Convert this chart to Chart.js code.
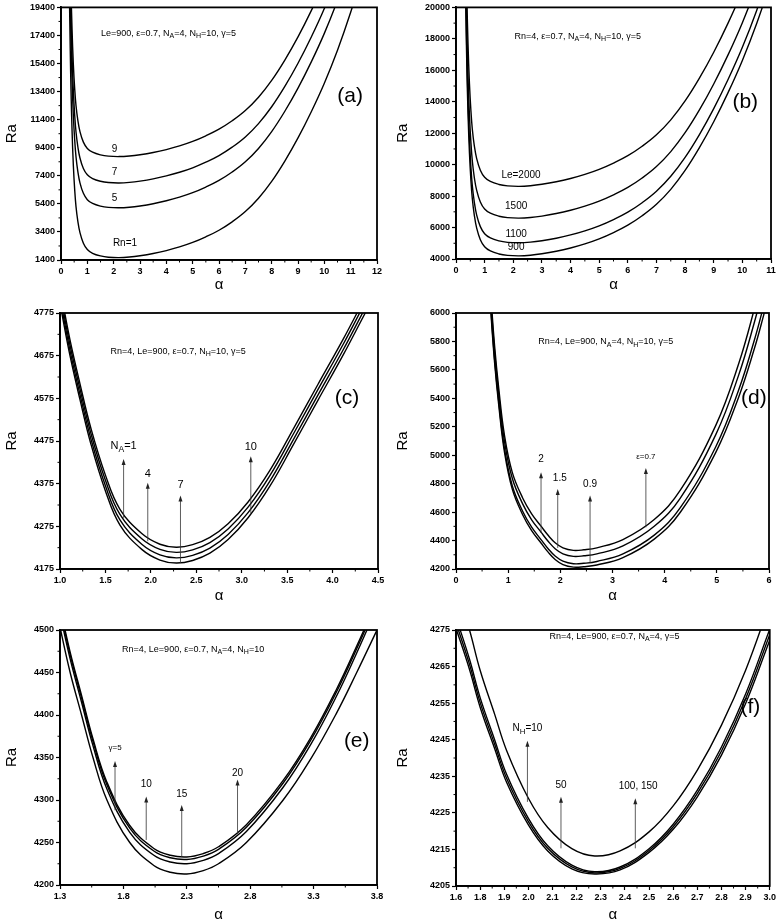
<!DOCTYPE html>
<html>
<head>
<meta charset="utf-8">
<script src="https://cdn.jsdelivr.net/npm/chart.js@4.4.1/dist/chart.umd.min.js"></script>
<style>
    html, body { margin: 0; padding: 0; background: #fff; }
    #fig { position: relative; width: 778px; height: 924px; }
    #fig canvas { position: absolute; }
</style>
</head>
<body>
<div id="fig">
    <canvas id="chA" width="389" height="300" style="left:0;top:0"></canvas>
    <canvas id="chB" width="389" height="300" style="left:389px;top:0"></canvas>
    <canvas id="chC" width="389" height="310" style="left:0;top:300px"></canvas>
    <canvas id="chD" width="389" height="310" style="left:389px;top:300px"></canvas>
    <canvas id="chE" width="389" height="314" style="left:0;top:610px"></canvas>
    <canvas id="chF" width="389" height="314" style="left:389px;top:610px"></canvas>
</div>
<script>
// ========== DATA ==========

// (a) Rn = 1, 5, 7, 9
const alphaA = [0.32, 0.35, 0.38, 0.42, 0.47, 0.52, 0.57, 0.64, 0.72, 0.85, 1.0, 1.2, 1.5, 1.8, 2.2, 2.6, 3.0, 3.5, 4.0, 4.5,
    5.0, 5.5, 6.0, 6.5, 7.0, 7.5, 8.0, 8.5, 9.0, 9.5, 10.0, 10.5, 11.0, 11.5];
const raRn1 = [20200, 16500, 13500, 10600, 8100, 6400, 5200, 4150, 3350, 2600, 2150, 1880, 1690, 1600, 1570, 1610, 1700, 1860, 2070, 2330,
    2650, 3050, 3520, 4120, 4850, 5800, 7000, 8450, 10100, 11950, 14000, 16350, 19050, 22100];
const raRn5 = [23750, 20050, 17050, 14150, 11650, 9950, 8750, 7700, 6900, 6150, 5700, 5430, 5240, 5150, 5120, 5160, 5250, 5410, 5620, 5880,
    6200, 6600, 7070, 7670, 8400, 9350, 10550, 12000, 13650, 15500, 17550, 19900, 22600, 25650];
const raRn7 = [25520, 21820, 18820, 15920, 13420, 11720, 10520, 9470, 8670, 7920, 7470, 7200, 7010, 6920, 6890, 6930, 7020, 7180, 7390, 7650,
    7970, 8370, 8840, 9440, 10170, 11120, 12320, 13770, 15420, 17270, 19320, 21670, 24370, 27420];
const raRn9 = [27400, 23700, 20700, 17800, 15300, 13600, 12400, 11350, 10550, 9800, 9350, 9080, 8890, 8800, 8770, 8810, 8900, 9060, 9270, 9530,
    9850, 10250, 10720, 11320, 12050, 13000, 14200, 15650, 17300, 19150, 21200, 23550, 26250, 29300];
const xTicksA = [0, 1, 2, 3, 4, 5, 6, 7, 8, 9, 10, 11, 12];
const yTicksA = [1400, 3400, 5400, 7400, 9400, 11400, 13400, 15400, 17400, 19400];

// (b) Le = 900, 1100, 1500, 2000
const alphaB = [0.32, 0.35, 0.38, 0.42, 0.47, 0.52, 0.57, 0.64, 0.72, 0.85, 1.0, 1.2, 1.5, 1.8, 2.2, 2.6, 3.0, 3.5, 4.0, 4.5,
    5.0, 5.5, 6.0, 6.5, 7.0, 7.5, 8.0, 8.5, 9.0, 9.5, 10.0, 10.5, 11.0, 11.5];
const raLe900 = [22830, 19130, 16130, 13230, 10730, 9030, 7830, 6780, 5980, 5230, 4780, 4510, 4320, 4230, 4200, 4240, 4330, 4490, 4700, 4960,
    5280, 5680, 6150, 6750, 7480, 8430, 9630, 11080, 12730, 14580, 16630, 18980, 21680, 24730];
const raLe1100 = [23660, 19960, 16960, 14060, 11560, 9860, 8660, 7610, 6810, 6060, 5610, 5340, 5150, 5060, 5030, 5070, 5160, 5320, 5530, 5790,
    6110, 6510, 6980, 7580, 8310, 9260, 10460, 11910, 13560, 15410, 17460, 19810, 22510, 25560];
const raLe1500 = [25230, 21530, 18530, 15630, 13130, 11430, 10230, 9180, 8380, 7630, 7180, 6910, 6720, 6630, 6600, 6640, 6730, 6890, 7100, 7360,
    7680, 8080, 8550, 9150, 9880, 10830, 12030, 13480, 15130, 16980, 19030, 21380, 24080, 27130];
const raLe2000 = [27250, 23550, 20550, 17650, 15150, 13450, 12250, 11200, 10400, 9650, 9200, 8930, 8740, 8650, 8620, 8660, 8750, 8910, 9120, 9380,
    9700, 10100, 10570, 11170, 11900, 12850, 14050, 15500, 17150, 19000, 21050, 23400, 26100, 29150];
const xTicksB = [0, 1, 2, 3, 4, 5, 6, 7, 8, 9, 10, 11];
const yTicksB = [4000, 6000, 8000, 10000, 12000, 14000, 16000, 18000, 20000];

// (c) N_A = 1, 4, 7, 10
const alphaC = [0.95, 1.02, 1.11, 1.22, 1.34, 1.50, 1.66, 1.9, 2.1, 2.28, 2.46, 2.65, 2.85, 3.07, 3.31, 3.57, 3.84, 4.12, 4.36, 4.5];
const raNA1 = [4855, 4775, 4675, 4572, 4468, 4358, 4278, 4221, 4196, 4189, 4195, 4212, 4244, 4295, 4369, 4467, 4571, 4678, 4775, 4830];
const raNA4 = [4867, 4787, 4687, 4584, 4480, 4370, 4290, 4233, 4208, 4201, 4207, 4224, 4256, 4307, 4381, 4479, 4583, 4690, 4787, 4842];
const raNA7 = [4880, 4800, 4700, 4597, 4493, 4383, 4303, 4246, 4221, 4214, 4220, 4237, 4269, 4320, 4394, 4492, 4596, 4703, 4800, 4855];
const raNA10 = [4892, 4812, 4712, 4609, 4505, 4395, 4315, 4258, 4233, 4226, 4232, 4249, 4281, 4332, 4406, 4504, 4608, 4715, 4812, 4867];
const xTicksC = [1.0, 1.5, 2.0, 2.5, 3.0, 3.5, 4.0, 4.5];
const xLabelsC = ['1.0', '1.5', '2.0', '2.5', '3.0', '3.5', '4.0', '4.5'];
const yTicksC = [4175, 4275, 4375, 4475, 4575, 4675, 4775];

// (d) epsilon = 0.7, 0.9, 1.5, 2
const alphaD = [0.6, 0.67, 0.74, 0.82, 0.93, 1.08, 1.28, 1.45, 1.63, 1.77, 1.9, 2.05, 2.25, 2.45, 2.7, 3.2, 3.8, 4.3, 4.98, 5.42, 5.72, 5.88, 6.05];
const raEps07 = [6450, 6000, 5650, 5350, 5020, 4760, 4580, 4470, 4383, 4317, 4267, 4231, 4213, 4216, 4228, 4280, 4410, 4599, 5020, 5410, 5750, 5960, 6200];
const raEps09 = [6474, 6024, 5674, 5374, 5044, 4784, 4604, 4494, 4407, 4341, 4291, 4255, 4237, 4240, 4253, 4306, 4438, 4631, 5060, 5460, 5810, 6026, 6275];
const raEps15 = [6526, 6076, 5726, 5426, 5096, 4836, 4656, 4546, 4459, 4393, 4343, 4307, 4289, 4293, 4306, 4362, 4500, 4699, 5145, 5565, 5935, 6165, 6430];
const raEps2 = [6568, 6118, 5768, 5468, 5138, 4878, 4698, 4588, 4501, 4435, 4385, 4349, 4331, 4335, 4349, 4407, 4548, 4754, 5210, 5645, 6030, 6270, 6550];
const xTicksD = [0, 1, 2, 3, 4, 5, 6];
const yTicksD = [4200, 4400, 4600, 4800, 5000, 5200, 5400, 5600, 5800, 6000];

// (e) gamma = 5, 10, 15, 20
const alphaE = [1.27, 1.305, 1.38, 1.47, 1.56, 1.67, 1.85, 2.04, 2.17, 2.3, 2.43, 2.55, 2.77, 3.06, 3.28, 3.48, 3.64, 3.80, 3.85];
const raGam5 = [4526, 4500, 4450, 4400, 4350, 4300, 4250, 4223, 4215, 4213, 4217, 4225, 4250, 4300, 4349, 4402, 4450, 4500, 4516];
const raGam10 = [4542, 4516, 4466, 4415, 4364, 4313, 4262, 4235, 4227, 4225, 4229, 4237, 4263, 4315, 4366, 4422, 4473, 4527, 4545];
const raGam15 = [4547, 4521, 4471, 4420, 4369, 4318, 4267, 4240, 4232, 4230, 4234, 4242, 4268, 4320, 4371, 4427, 4478, 4532, 4550];
const raGam20 = [4550, 4524, 4474, 4423, 4372, 4321, 4270, 4243, 4235, 4233, 4237, 4245, 4271, 4323, 4374, 4430, 4481, 4535, 4553];
const xTicksE = [1.3, 1.8, 2.3, 2.8, 3.3, 3.8];
const xLabelsE = ['1.3', '1.8', '2.3', '2.8', '3.3', '3.8'];
const yTicksE = [4200, 4250, 4300, 4350, 4400, 4450, 4500];

// (f) N_H = 10, 50, 100, 150
const alphaF = [1.70, 1.756, 1.80, 1.86, 1.91, 2.0, 2.08, 2.18, 2.275, 2.38, 2.5, 2.6, 2.7, 2.8, 2.9, 3.0, 3.05];
const raNH10 = [4287, 4275, 4264, 4252, 4242, 4229, 4221, 4215.2, 4213.2, 4214.6, 4219.8, 4226.9, 4236.7, 4249.0, 4264.0, 4282.2, 4291.3];
const raNH50 = [4278.5, 4267, 4256.5, 4245, 4235.5, 4223.5, 4216, 4210.7, 4208.9, 4210.2, 4215.2, 4221.9, 4231.2, 4243, 4257.5, 4275.2, 4283.8];
const raNH100 = [4277.0, 4265.6, 4255.2, 4243.8, 4234.4, 4222.6, 4215.3, 4210.2, 4208.6, 4209.8, 4214.7, 4221.2, 4230.3, 4241.9, 4256.2, 4273.7, 4282.2];
const raNH150 = [4275.5, 4264.2, 4253.9, 4242.6, 4233.3, 4221.7, 4214.6, 4209.7, 4208.3, 4209.4, 4214.2, 4220.5, 4229.4, 4240.8, 4254.9, 4272.2, 4280.6];
const xTicksF = [1.7, 1.8, 1.9, 2.0, 2.1, 2.2, 2.3, 2.4, 2.5, 2.6, 2.7, 2.8, 2.9, 3.0];
const xLabelsF = ['1.6', '1.8', '1.9', '2.0', '2.1', '2.2', '2.3', '2.4', '2.5', '2.6', '2.7', '2.8', '2.9', '3.0'];
const yTicksF = [4205, 4215, 4225, 4235, 4245, 4255, 4265, 4275];

// ========== VẼ ==========

const FONT = "'Liberation Sans', Arial, sans-serif";

function pts(xs, ys) {
    return xs.map((x, i) => ({ x: x, y: ys[i] }));
}

// text with N_{A} style subscripts
function drawRich(ctx, str, x, y, size) {
    const parts = [];
    const re = /_\{([^}]*)\}/g;
    let last = 0, m;
    while ((m = re.exec(str))) {
        if (m.index > last) parts.push({ t: str.slice(last, m.index), sub: false });
        parts.push({ t: m[1], sub: true });
        last = re.lastIndex;
    }
    if (last < str.length) parts.push({ t: str.slice(last), sub: false });
    const subSize = size * 0.78;
    let total = 0;
    parts.forEach(p => {
        ctx.font = (p.sub ? subSize : size) + 'px ' + FONT;
        p.w = ctx.measureText(p.t).width;
        total += p.w;
    });
    let cx = x - total / 2;
    ctx.textAlign = 'left';
    ctx.textBaseline = 'middle';
    parts.forEach(p => {
        ctx.font = (p.sub ? subSize : size) + 'px ' + FONT;
        ctx.fillText(p.t, cx, p.sub ? y + size * 0.32 : y);
        cx += p.w;
    });
}

function makeDecor(p) {
    return {
        id: 'decor',
        afterDraw(chart) {
            const ctx = chart.ctx, a = chart.chartArea;
            const X = v => chart.scales.x.getPixelForValue(v);
            const Y = v => chart.scales.y.getPixelForValue(v);
            ctx.save();
            ctx.strokeStyle = '#000';
            ctx.fillStyle = '#000';

            // minor ticks
            ctx.lineWidth = 1;
            ctx.beginPath();
            for (let i = 0; i + 1 < p.xTicks.length; i++) {
                const px = X((p.xTicks[i] + p.xTicks[i + 1]) / 2);
                ctx.moveTo(px, a.bottom);
                ctx.lineTo(px, a.bottom + 2.5);
            }
            for (let i = 0; i + 1 < p.yTicks.length; i++) {
                const py = Y((p.yTicks[i] + p.yTicks[i + 1]) / 2);
                ctx.moveTo(a.left, py);
                ctx.lineTo(a.left - 2.5, py);
            }
            ctx.stroke();

            // frame
            ctx.lineWidth = 1.8;
            ctx.strokeRect(a.left, a.top, a.right - a.left, a.bottom - a.top);

            // axis titles
            ctx.font = '15px ' + FONT;
            ctx.textAlign = 'center';
            ctx.textBaseline = 'middle';
            ctx.fillText('α', (a.left + a.right) / 2, p.alphaY);
            ctx.save();
            ctx.translate(p.raX, (a.top + a.bottom) / 2);
            ctx.rotate(-Math.PI / 2);
            ctx.fillText('Ra', 0, 0);
            ctx.restore();

            // parameters line + panel tag
            drawRich(ctx, p.params.text, X(p.params.x), Y(p.params.y), 9);
            ctx.font = '21px ' + FONT;
            ctx.textAlign = 'center';
            ctx.fillText(p.tag.text, X(p.tag.x), Y(p.tag.y));

            // curve labels
            p.notes.forEach(n => drawRich(ctx, n.text, X(n.x), Y(n.y), n.size || 10));

            // arrows
            p.arrows.forEach(ar => {
                const px = X(ar.x), y0 = Y(ar.y0), y1 = Y(ar.y1);
                ctx.strokeStyle = '#333';
                ctx.fillStyle = '#222';
                ctx.lineWidth = 0.8;
                ctx.beginPath();
                ctx.moveTo(px, y0);
                ctx.lineTo(px, y1 + 4);
                ctx.stroke();
                ctx.beginPath();
                ctx.moveTo(px, y1);
                ctx.lineTo(px - 2, y1 + 6);
                ctx.lineTo(px + 2, y1 + 6);
                ctx.closePath();
                ctx.fill();
                ctx.fillStyle = '#000';
                drawRich(ctx, ar.label, X(ar.lx !== undefined ? ar.lx : ar.x), Y(ar.ly), ar.size || 10);
            });
            ctx.restore();
        }
    };
}

function makePanel(id, p) {
    const tickFont = { family: FONT, size: 9, weight: 'bold' };
    new Chart(document.getElementById(id), {
        type: 'line',
        data: {
            datasets: p.series.map(ys => ({
                data: pts(p.xs, ys),
                borderColor: '#000',
                borderWidth: 1.4,
                pointRadius: 0,
                fill: false,
                tension: 0.4
            }))
        },
        options: {
            responsive: false,
            animation: false,
            events: [],
            layout: { padding: { left: 0, bottom: 0, top: p.pad.top, right: p.pad.right } },
            plugins: { legend: { display: false }, tooltip: { enabled: false } },
            scales: {
                x: {
                    type: 'linear',
                    min: p.xMin,
                    max: p.xMax,
                    afterBuildTicks: s => { s.ticks = p.xTicks.map(v => ({ value: v })); },
                    afterFit: s => { s.height = p.xH; },
                    ticks: {
                        autoSkip: false, maxRotation: 0, padding: 2, color: '#000', font: tickFont,
                        callback: (v, i) => p.xLabels ? p.xLabels[i] : String(v)
                    },
                    grid: { drawOnChartArea: false, tickLength: 4, tickColor: '#000', tickWidth: 1.2 },
                    border: { color: '#000', width: 1.8 }
                },
                y: {
                    type: 'linear',
                    min: p.yMin,
                    max: p.yMax,
                    afterBuildTicks: s => { s.ticks = p.yTicks.map(v => ({ value: v })); },
                    afterFit: s => { s.width = p.yW; },
                    ticks: {
                        autoSkip: false, padding: 2, color: '#000', font: tickFont,
                        callback: v => String(v)
                    },
                    grid: { drawOnChartArea: false, tickLength: 4, tickColor: '#000', tickWidth: 1.2 },
                    border: { color: '#000', width: 1.8 }
                }
            }
        },
        plugins: [makeDecor(p)]
    });
}

makePanel('chA', {
    xs: alphaA, series: [raRn1, raRn5, raRn7, raRn9],
    xMin: 0, xMax: 12, yMin: 1400, yMax: 19400, xTicks: xTicksA, yTicks: yTicksA,
    pad: { top: 5, right: 12 }, yW: 61, xH: 40, raX: 12, alphaY: 285,
    params: { text: 'Le=900, ε=0.7, N_{A}=4, N_{H}=10, γ=5', x: 4.08, y: 17570 },
    tag: { text: '(a)', x: 10.98, y: 13050 },
    notes: [
        { text: '9', x: 2.03, y: 9280 },
        { text: '7', x: 2.03, y: 7640 },
        { text: '5', x: 2.03, y: 5820 },
        { text: 'Rn=1', x: 2.43, y: 2580 }
    ],
    arrows: []
});

makePanel('chB', {
    xs: alphaB, series: [raLe900, raLe1100, raLe1500, raLe2000],
    xMin: 0, xMax: 11, yMin: 4000, yMax: 20000, xTicks: xTicksB, yTicks: yTicksB,
    pad: { top: 4, right: 7 }, yW: 67, xH: 41, raX: 14, alphaY: 285,
    params: { text: 'Rn=4, ε=0.7, N_{A}=4, N_{H}=10, γ=5', x: 4.25, y: 18170 },
    tag: { text: '(b)', x: 10.1, y: 14000 },
    notes: [
        { text: 'Le=2000', x: 2.27, y: 9350 },
        { text: '1500', x: 2.1, y: 7340 },
        { text: '1100', x: 2.1, y: 5590 },
        { text: '900', x: 2.1, y: 4750 }
    ],
    arrows: []
});

makePanel('chC', {
    xs: alphaC, series: [raNA1, raNA4, raNA7, raNA10],
    xMin: 1.0, xMax: 4.5, yMin: 4175, yMax: 4775, xTicks: xTicksC, xLabels: xLabelsC, yTicks: yTicksC,
    pad: { top: 13, right: 11 }, yW: 60, xH: 41, raX: 12, alphaY: 296,
    params: { text: 'Rn=4, Le=900, ε=0.7, N_{H}=10, γ=5', x: 2.30, y: 4685 },
    tag: { text: '(c)', x: 4.16, y: 4576 },
    notes: [],
    arrows: [
        { x: 1.70, y0: 4295, y1: 4433, label: 'N_{A}=1', ly: 4464, size: 11 },
        { x: 1.966, y0: 4240, y1: 4377, label: '4', ly: 4398, size: 11 },
        { x: 2.326, y0: 4189, y1: 4347, label: '7', ly: 4372, size: 11 },
        { x: 3.10, y0: 4306, y1: 4439, label: '10', ly: 4462, size: 11 }
    ]
});

makePanel('chD', {
    xs: alphaD, series: [raEps07, raEps09, raEps15, raEps2],
    xMin: 0, xMax: 6, yMin: 4200, yMax: 6000, xTicks: xTicksD, yTicks: yTicksD,
    pad: { top: 13, right: 9 }, yW: 67, xH: 41, raX: 14, alphaY: 296,
    params: { text: 'Rn=4, Le=900, N_{A}=4, N_{H}=10, γ=5', x: 2.87, y: 5796 },
    tag: { text: '(d)', x: 5.71, y: 5402 },
    notes: [],
    arrows: [
        { x: 1.63, y0: 4453, y1: 4880, label: '2', ly: 4969 },
        { x: 1.95, y0: 4348, y1: 4762, label: '1.5', lx: 1.99, ly: 4835 },
        { x: 2.57, y0: 4242, y1: 4716, label: '0.9', ly: 4793 },
        { x: 3.64, y0: 4493, y1: 4910, label: 'ε=0.7', ly: 4988, size: 8 }
    ]
});

makePanel('chE', {
    xs: alphaE, series: [raGam5, raGam10, raGam15, raGam20],
    xMin: 1.3, xMax: 3.8, yMin: 4200, yMax: 4500, xTicks: xTicksE, xLabels: xLabelsE, yTicks: yTicksE,
    pad: { top: 20, right: 12 }, yW: 60, xH: 39, raX: 12, alphaY: 305,
    params: { text: 'Rn=4, Le=900, ε=0.7, N_{A}=4, N_{H}=10', x: 2.35, y: 4477 },
    tag: { text: '(e)', x: 3.64, y: 4369 },
    notes: [],
    arrows: [
        { x: 1.734, y0: 4288, y1: 4346, label: 'γ=5', ly: 4362, size: 8 },
        { x: 1.98, y0: 4253, y1: 4304, label: '10', ly: 4319 },
        { x: 2.26, y0: 4233, y1: 4294, label: '15', ly: 4307 },
        { x: 2.70, y0: 4260, y1: 4324, label: '20', ly: 4332 }
    ]
});

makePanel('chF', {
    xs: alphaF, series: [raNH10, raNH50, raNH100, raNH150],
    xMin: 1.7, xMax: 3.0, yMin: 4205, yMax: 4275, xTicks: xTicksF, xLabels: xLabelsF, yTicks: yTicksF,
    pad: { top: 20, right: 6 }, yW: 67, xH: 38, raX: 14, alphaY: 305,
    params: { text: 'Rn=4, Le=900, ε=0.7, N_{A}=4, γ=5', x: 2.357, y: 4273.2 },
    tag: { text: '(f)', x: 2.92, y: 4254 },
    notes: [],
    arrows: [
        { x: 1.996, y0: 4228, y1: 4244.7, label: 'N_{H}=10', ly: 4248 },
        { x: 2.135, y0: 4215.3, y1: 4229.4, label: '50', ly: 4232.6 },
        { x: 2.443, y0: 4215.3, y1: 4229, label: '100, 150', lx: 2.455, ly: 4232.2 }
    ]
});
</script>
</body>
</html>
